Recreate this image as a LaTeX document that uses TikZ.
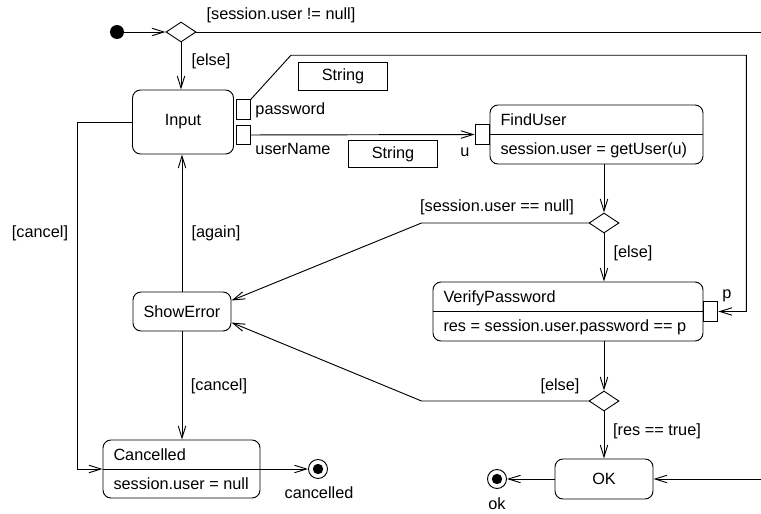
\documentclass[tikz,border=0pt]{standalone}
\usepackage{fontspec}
\setmainfont{Liberation Sans}
\usetikzlibrary{arrows.meta,positioning,shapes.geometric,calc}

\begin{document}
\begin{tikzpicture}[
    x=0.75pt, y=-0.75pt,
    line width=0.7pt,
    font=\fontsize{12.2}{14}\selectfont,
    box/.style={draw, rounded corners=6pt, align=center, inner sep=0pt},
    obj/.style={draw, minimum width=67pt, minimum height=20.5pt, inner sep=0pt},
    port/.style={draw, minimum width=10.5pt, minimum height=14.6pt, inner sep=0pt},
    dec/.style={draw, diamond, minimum width=22.5pt, minimum height=15pt, inner sep=0pt},
    initnode/.style={circle, fill, minimum size=10.5pt, inner sep=0pt},
    finalnode/.style={circle, draw, minimum size=14.25pt, inner sep=0pt,
      path picture={\fill (path picture bounding box.center) circle (3.9pt);}},
    txt/.style={inner sep=0pt},
    arr/.style={-{Straight Barb[length=9pt,width=5.6pt]}}
  ]
    \useasboundingbox (0,0) rectangle (761,514);

    % actions
    \node[box, minimum width=75.75pt, minimum height=48pt] (input) at (183,122) {Input};
    \node[box, minimum width=73.5pt, minimum height=29.25pt] (show) at (182,311.5) {ShowError};
    \node[box, minimum width=73.5pt, minimum height=30pt] (ok) at (604,479) {OK};
    \node[box, minimum width=117.75pt, minimum height=43.5pt] (canc) at (181.5,469) {};
    \node[box, minimum width=159.75pt, minimum height=44.25pt] (find) at (596.5,134.5) {};
    \node[box, minimum width=202.5pt, minimum height=44.25pt] (vp) at (568,311.5) {};
    \draw (canc.west) -- (canc.east);
    \draw (find.west) -- (find.east);
    \draw (vp.west) -- (vp.east);
    \node[txt, anchor=base west] (cancT) at ($(canc.west)+(10.5,-8.6)$) {Cancelled};
    \node[txt, anchor=base west] (cancB) at ($(canc.west)+(10.5,20.5)$) {session.user = null};
    \node[txt, anchor=base west] (findT) at ($(find.west)+(10.5,-8.6)$) {FindUser};
    \node[txt, anchor=base west] (findB) at ($(find.west)+(10.5,20)$) {session.user = getUser(u)};
    \node[txt, anchor=base west] (vpT) at ($(vp.west)+(10.5,-8.6)$) {VerifyPassword};
    \node[txt, anchor=base west] (vpB) at ($(vp.west)+(10.5,20)$) {res = session.user.password == p};

    % pins and objects
    \node[port, right=1.5pt of input.east, yshift=9.4pt] (pwport) {};
    \node[port, right=1.5pt of input.east, yshift=-9.75pt] (unport) {};
    \node[port, left=0pt of find] (uport) {};
    \node[port, right=0pt of vp] (pport) {};
    \node[obj] (str1) at (343,76.5) {String};
    \node[obj] (str2) at (393,154) {String};

    % control nodes
    \node[initnode] (init) at (117,32) {};
    \node[dec] (dec1) at (181,32) {};
    \node[dec] (dec2) at (604,223) {};
    \node[dec] (dec3) at (604,401) {};
    \node[finalnode] (fCanc) at (318,469) {};
    \node[finalnode] (fOk) at (497,479) {};
    \coordinate (eTop) at (761,32);
    \coordinate (eOk) at (761,479);

    % labels
    \node[txt] (gNotNull) at (281,15) {[session.user != null]};
    \node[txt] (gElse1) at (211,61) {[else]};
    \node[txt, anchor=west] (lPassword) at (255,110) {password};
    \node[txt, anchor=west] (lUserName) at (255,149) {userName};
    \node[txt] (lU) at (465,152) {u};
    \node[txt] (gNull) at (497,207) {[session.user == null]};
    \node[txt] (gElse2) at (633,253) {[else]};
    \node[txt] (lP) at (727,296) {p};
    \node[txt] (gElse3) at (560,386) {[else]};
    \node[txt] (gTrue) at (657,431) {[res == true]};
    \node[txt] (lOk) at (497,504) {ok};
    \node[txt] (gCancel1) at (40,233) {[cancel]};
    \node[txt] (gAgain) at (216,233) {[again]};
    \node[txt] (gCancel2) at (219,386) {[cancel]};
    \node[txt] (lCancelled) at (319,493) {cancelled};

    \draw[arr] (init) -- (dec1);
    \draw (dec1) -- (eTop);
    \draw[arr] (dec1) -- (dec1 |- input.north);
    \draw[arr] (input.west) -| ($(canc.west)+(-25,0)$) -- (canc.west);
    \draw[arr] (pwport.north east) -- ++(40,-44) -| ($(pport.east)+(28,0)$) -- (pport.east);
    \draw[arr] (unport) -- (uport);
    \draw[arr] (dec2 |- find.south) -- (dec2);
    \draw[arr] (dec2.west) -- ++(-167,0) -- ($(show.east)+(0,-11)$);
    \draw[arr] (dec2) -- (dec2 |- vp.north);
    \draw[arr] (dec3 |- vp.south) -- (dec3);
    \draw[arr] (dec3.west) -- ++(-167,0) -- ($(show.east)+(0,11)$);
    \draw[arr] (dec3) -- (dec3 |- ok.north);
    \draw[arr] (eOk) -- (ok);
    \draw[arr] (ok) -- (fOk);
    \draw[arr] (show) -- (show |- input.south);
    \draw[arr] (show) -- (show |- canc.north);
    \draw[arr] (canc.east) -- (fCanc);
  \end{tikzpicture}
\end{document}
